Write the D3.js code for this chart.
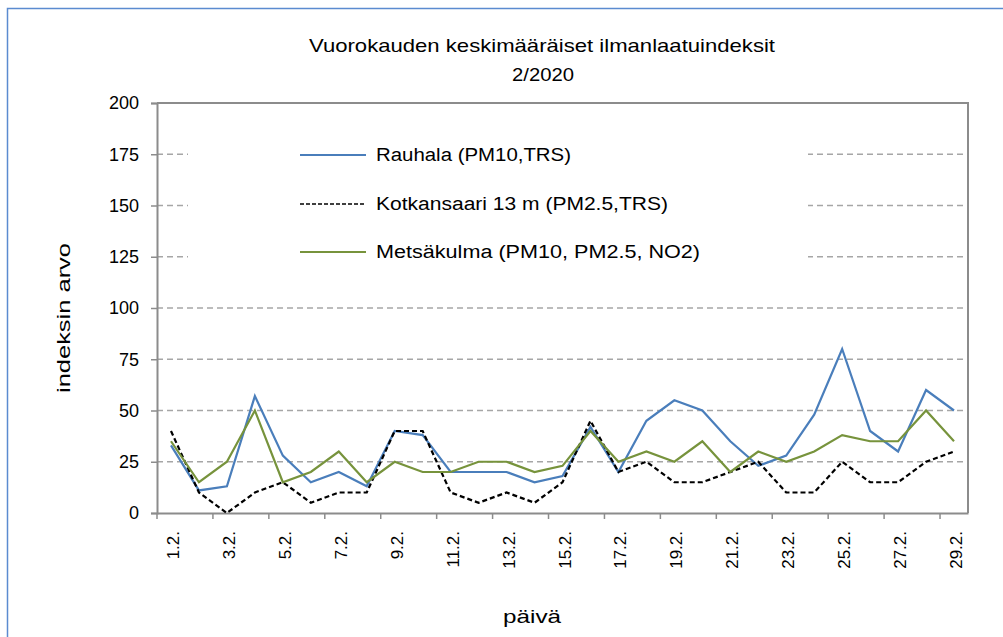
<!DOCTYPE html>
<html><head><meta charset="utf-8">
<script src="https://cdn.jsdelivr.net/npm/d3@7"></script>
<style>body{margin:0;background:#fff}svg{display:block}text{font-family:"Liberation Sans",Arial,sans-serif;fill:#000}</style>
</head><body><svg id="c" width="1003" height="637"></svg>
<script>
const days = d3.range(1, 30).map(d => d + ".2.");
const rauhala = [33,11,13,57,28,15,20,13,40,38,20,20,20,15,18,42,20,45,55,50,35,23,28,48,80,40,30,60,50];
const kotkansaari = [40,10,0,10,15,5,10,10,40,40,10,5,10,5,15,45,20,25,15,15,20,25,10,10,25,15,15,25,30];
const metsakulma = [35,15,25,50,15,20,30,15,25,20,20,25,25,20,23,40,25,30,25,35,20,30,25,30,38,35,35,50,35];
const yTicks = [0,25,50,75,100,125,150,175,200];
const seriesNames = ["Rauhala (PM10,TRS)", "Kotkansaari 13 m (PM2.5,TRS)", "Metsäkulma (PM10, PM2.5, NO2)"];

const series = [
  {name: seriesNames[0], values: rauhala, color: "#4a7ebb", dash: null, tl: 195},
  {name: seriesNames[1], values: kotkansaari, color: "#000", dash: "5,3", tl: 292},
  {name: seriesNames[2], values: metsakulma, color: "#77933c", dash: null, tl: 324}
];

const svg = d3.select("#c");
const L = 157, R = 968, T = 103, B = 513;

svg.append("rect").attr("x", 7.5).attr("y", 8.5).attr("width", 1100).attr("height", 700)
  .attr("fill", "none").attr("stroke", "#5b8bd0").attr("stroke-width", 1.5);

const x = d3.scaleBand().domain(days).range([L, R]).paddingInner(0).paddingOuter(0);
const y = d3.scaleLinear().domain([0, 200]).range([B, T]);

svg.append("g").selectAll("line").data(yTicks.filter(v => v > 0 && v < 200)).join("line")
  .attr("x1", L).attr("x2", R).attr("y1", d => y(d)).attr("y2", d => y(d))
  .attr("stroke", "#a6a6a6").attr("stroke-width", 1.5).attr("stroke-dasharray", "6,4");

svg.append("path").attr("d", `M${L},${T}H${R}V${B}`).attr("fill", "none").attr("stroke", "#8c8c8c").attr("stroke-width", 2);

const yAxis = svg.append("g").attr("transform", `translate(${L},0)`)
  .call(d3.axisLeft(y).tickValues(yTicks).tickSize(6).tickPadding(12));
yAxis.select(".domain").attr("stroke", "#8c8c8c").attr("stroke-width", 2);
yAxis.selectAll(".tick line").attr("stroke", "#8c8c8c").attr("stroke-width", 1.5);
yAxis.selectAll("text").attr("font-size", 18).attr("font-family", "Liberation Sans, Arial, sans-serif")
  .attr("textLength", null);

const xAxis = svg.append("g").attr("transform", `translate(0,${B})`)
  .call(d3.axisBottom(x).tickValues([]).tickSizeOuter(0));
xAxis.select(".domain").attr("stroke", "#8c8c8c").attr("stroke-width", 2);
const tickPos = d3.range(0, 29, 2).map(i => x(days[i]));
svg.append("g").selectAll("line").data(tickPos).join("line")
  .attr("x1", d => d).attr("x2", d => d).attr("y1", B).attr("y2", B + 6)
  .attr("stroke", "#8c8c8c").attr("stroke-width", 1.5);
svg.append("g").selectAll("text").data(days.filter((d, i) => i % 2 === 0)).join("text")
  .attr("transform", d => `translate(${x(d) + x.bandwidth() / 2 + 8},531) rotate(-90)`)
  .attr("text-anchor", "end").attr("font-size", 17).text(d => d);

const line = d3.line().x((d, i) => x(days[i]) + x.bandwidth() / 2).y(d => y(d));
series.forEach(s => {
  svg.append("path").datum(s.values).attr("d", line).attr("fill", "none")
    .attr("stroke", s.color).attr("stroke-width", 2.2)
    .attr("stroke-dasharray", s.dash).attr("stroke-linejoin", "miter");
});

svg.append("rect").attr("x", 188).attr("y", 130).attr("width", 620).attr("height", 148).attr("fill", "#fff");
const legY = [155, 204, 252];
series.forEach((s, i) => {
  svg.append("line").attr("x1", 300).attr("x2", 366).attr("y1", legY[i]).attr("y2", legY[i])
    .attr("stroke", s.color).attr("stroke-width", s.dash ? 1.5 : 1.8).attr("stroke-dasharray", s.dash ? "4,2" : null);
  svg.append("text").attr("x", 376).attr("y", legY[i] + 6).attr("font-size", 18)
    .attr("textLength", s.tl).attr("lengthAdjust", "spacingAndGlyphs").text(s.name);
});

svg.append("text").attr("x", 542).attr("y", 52).attr("text-anchor", "middle").attr("font-size", 19)
  .attr("textLength", 466).attr("lengthAdjust", "spacingAndGlyphs").text("Vuorokauden keskimääräiset ilmanlaatuindeksit");
svg.append("text").attr("x", 543).attr("y", 81).attr("text-anchor", "middle").attr("font-size", 19)
  .attr("textLength", 62).attr("lengthAdjust", "spacingAndGlyphs").text("2/2020");
svg.append("text").attr("transform", "translate(70,318) rotate(-90)").attr("text-anchor", "middle")
  .attr("font-size", 19).attr("textLength", 150).attr("lengthAdjust", "spacingAndGlyphs").text("indeksin arvo");
svg.append("text").attr("x", 532).attr("y", 623).attr("text-anchor", "middle").attr("font-size", 19)
  .attr("textLength", 58).attr("lengthAdjust", "spacingAndGlyphs").text("päivä");
</script></body></html>
